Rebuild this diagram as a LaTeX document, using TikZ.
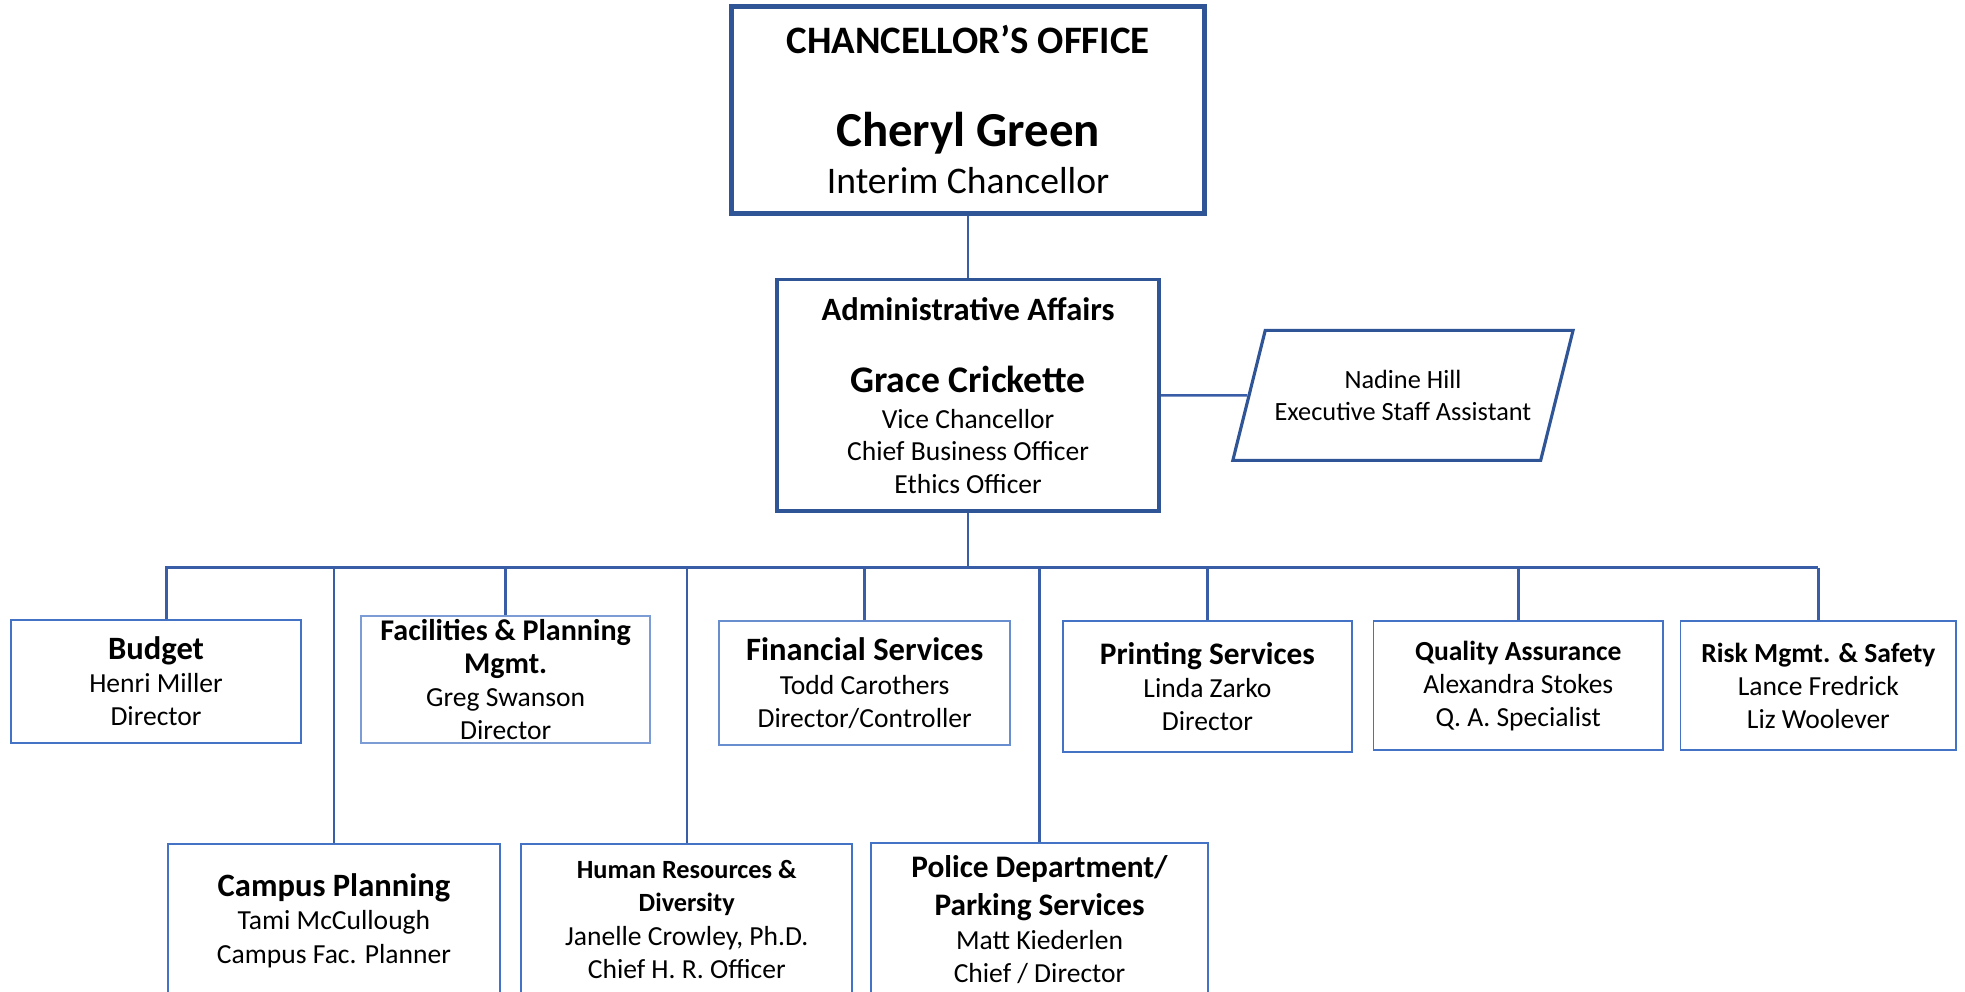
\documentclass[tikz,border=0pt]{standalone}
\usepackage{fontspec}
\setmainfont{Carlito}
\usetikzlibrary{shapes.geometric}
\definecolor{darkblue}{RGB}{47,85,151}
\definecolor{lineblue}{RGB}{58,93,168}
\definecolor{boxblue}{RGB}{68,114,196}
\newcommand\hd[2][13]{{\fontsize{#1}{#1}\selectfont\bfseries #2}}
\begin{document}
\begin{tikzpicture}[x=0.5pt,y=-0.5pt,
	office/.style={draw=darkblue,fill=white,align=center,inner sep=0pt},
	unit/.style={draw=boxblue,line width=0.75pt,fill=white,align=center,inner sep=0pt,anchor=north,font=\fontsize{11}{13.25}\selectfont},
	link/.style={draw=lineblue,line width=1pt}]
	\useasboundingbox (0,0) rectangle (1568,791);
	\clip (0,0) rectangle (1568,791);
	% top of the chart
	\node[office,line width=2pt,minimum width=188.5pt,minimum height=82.5pt,font=\fontsize{15}{19}\selectfont] (chan) at (772.5,87.5)
		{\hd[15.5]{CHANCELLOR’S OFFICE}\\[18pt]\hd[19.5]{Cheryl Green}\\Interim Chancellor};
	\node[office,line width=1.5pt,minimum width=152.5pt,minimum height=92.5pt,font=\fontsize{11}{13}\selectfont] (admin) at (772.5,315.5)
		{\hd{Administrative Affairs}\\[16pt]\hd[15]{Grace Crickette}\\[1pt]Vice Chancellor\\Chief Business Officer\\Ethics Officer};
	\node[trapezium,trapezium left angle=76,trapezium right angle=104,draw=darkblue,line width=1.25pt,
		inner xsep=3.75pt,inner ysep=16pt,align=center,font=\fontsize{10.5}{12.5}\selectfont] (nadine) at (1119.5,315.5)
		{Nadine Hill\\Executive Staff Assistant};
	% first row
	\node[unit,minimum width=115.5pt,minimum height=49pt] (budget) at (124.5,494) {\hd{Budget}\\Henri Miller\\Director};
	\node[unit,draw=boxblue!70,minimum width=115.5pt,minimum height=50.5pt] (facil) at (403.5,491) {\hd[12]{Facilities \& Planning}\\\hd[12]{Mgmt.}\\Greg Swanson\\Director};
	\node[unit,draw=boxblue!80,minimum width=116pt,minimum height=49.5pt] (financ) at (690,495) {\hd{Financial Services}\\Todd Carothers\\Director/Controller};
	\node[unit,minimum width=115.5pt,minimum height=52pt] (print) at (963.5,495) {\hd[12.5]{Printing Services}\\Linda Zarko\\Director};
	\node[unit,minimum width=115.5pt,minimum height=51.5pt] (qa) at (1211.5,495) {\hd[11]{Quality Assurance}\\Alexandra Stokes\\Q. A. Specialist};
	\node[unit,minimum width=110pt,minimum height=51.5pt] (risk) at (1451,495) {\hd[11]{Risk Mgmt. \& Safety}\\Lance Fredrick\\Liz Woolever};
	% second row
	\node[unit,minimum width=132.5pt,minimum height=61pt] (campus) at (266.5,673) {\hd{Campus Planning}\\Tami McCullough\\Campus Fac. Planner};
	\node[unit,minimum width=132pt,minimum height=60pt] (hr) at (548,673) {\hd[10.5]{Human Resources \&}\\\hd[10.5]{Diversity}\\Janelle Crowley, Ph.D.\\Chief H. R. Officer};
	\node[unit,minimum width=134.5pt,minimum height=61pt] (police) at (829.5,672) {\hd[12.5]{Police Department/}\\[2pt]\hd[12.5]{Parking Services}\\Matt Kiederlen\\Chief / Director};
	% connectors
	\coordinate (bus) at (772.5,453);
	\coordinate (budtop) at ([xshift=4.25pt]budget.north);
	\draw[link] (chan.south) -- (admin.north);
	\draw[link] (admin.east) -- (nadine.west);
	\draw[link] (admin.south) -- (bus);
	\draw[link] (budtop) |- (risk.north |- bus);
	\foreach \n in {campus,facil,hr,financ,police,print,qa,risk}
		\draw[link] (\n.north |- bus) -- (\n.north);
\end{tikzpicture}
\end{document}
